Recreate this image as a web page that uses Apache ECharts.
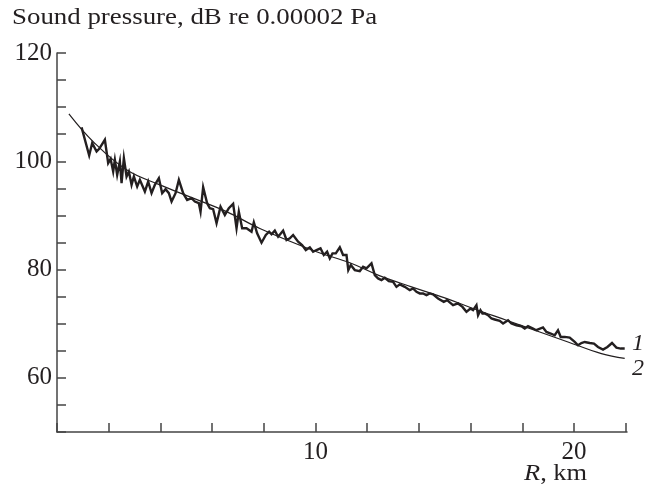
<!DOCTYPE html>
<html>
<head>
<meta charset="utf-8">
<script src="https://cdn.jsdelivr.net/npm/echarts@6/dist/echarts.min.js"></script>
<style>html,body{margin:0;padding:0;background:#fff}#c{width:651px;height:492px}</style>
</head>
<body>
<div id="c"></div>
<script>
// Curve 1: measured sound pressure (R km, dB)
const measuredR = [0.951,1.245,1.361,1.531,1.632,1.852,1.980,2.073,2.173,2.239,2.328,2.432,2.498,2.587,2.691,2.780,2.885,2.974,3.101,3.206,3.399,3.527,3.658,3.786,3.941,4.068,4.200,4.327,4.432,4.586,4.714,4.880,5.035,5.205,5.333,5.487,5.553,5.654,5.808,5.913,6.040,6.172,6.326,6.493,6.647,6.814,6.945,7.034,7.162,7.332,7.525,7.614,7.742,7.912,8.078,8.206,8.299,8.426,8.554,8.747,8.879,9.006,9.134,9.327,9.482,9.625,9.780,9.907,10.039,10.193,10.321,10.449,10.553,10.658,10.785,10.940,11.067,11.199,11.269,11.365,11.520,11.713,11.841,11.972,12.166,12.293,12.421,12.553,12.680,12.835,13.001,13.132,13.260,13.453,13.647,13.774,13.906,14.034,14.161,14.293,14.420,14.548,14.741,14.807,14.962,15.089,15.321,15.514,15.685,15.839,15.994,16.095,16.226,16.288,16.381,16.458,16.547,16.675,16.806,16.934,17.127,17.255,17.448,17.579,17.773,17.966,18.094,18.221,18.415,18.538,18.801,18.933,19.099,19.254,19.381,19.486,19.641,19.834,20.027,20.155,20.286,20.414,20.607,20.773,20.928,21.122,21.292,21.470,21.640,21.806,21.961];
const measuredDB = [106.26,101.07,103.37,101.81,102.31,103.98,99.67,100.46,98.11,100.28,97.5,99.96,95.96,100.59,97.19,98.11,95.65,97.19,95.33,96.57,94.41,96.26,94.11,95.65,96.89,94.11,94.85,94.11,92.56,94.11,96.57,94.11,92.87,93.19,92.56,92.26,90.7,95.22,92.26,91.33,91.15,88.56,91.63,90.09,91.33,92.13,87.63,90.7,87.63,87.63,87.0,88.74,86.7,84.96,86.39,87.0,86.52,87.19,86.07,87.19,85.46,85.78,86.39,85.15,84.54,83.61,84.11,83.3,83.61,83.93,82.69,83.3,82.07,83.0,83.0,84.11,82.69,82.69,79.91,80.83,79.91,79.72,80.52,80.22,81.15,78.98,78.37,78.06,78.48,77.87,77.74,76.81,77.26,76.81,76.2,76.52,75.89,75.59,75.59,75.28,75.59,75.41,74.67,74.35,74.04,74.35,73.43,73.74,73.11,72.19,72.81,72.5,73.43,71.57,72.5,71.89,71.89,71.57,70.96,70.78,70.52,70.04,70.65,70.04,69.72,69.54,69.11,69.54,69.11,68.8,69.3,68.48,68.19,67.87,68.8,67.56,67.56,67.44,66.63,66.02,66.44,66.63,66.44,66.33,65.7,65.22,65.7,66.44,65.59,65.41,65.41];
// Curve 2: calculated (smooth)
const calcR = [0.460,1.400,2.691,3.979,5.267,6.559,7.846,10.039,11.327,12.421,13.713,15.000,16.095,17.386,18.674,19.768,21.060,21.961];
const calcDB = [108.74,103.61,98.43,95.65,93.19,90.7,87.59,83.3,81.26,78.98,76.81,74.78,72.81,70.65,68.48,66.63,64.48,63.6];
const xTickLabels = [10, 20];
const yTickLabels = [60, 80, 100, 120];
const curveLabels = ['1', '2'];

const FONT = '"Liberation Serif","DejaVu Serif",serif';
const INK = '#231f20';
const chart = echarts.init(document.getElementById('c'), null, {renderer: 'canvas'});
const zip = (a, b) => a.map((v, i) => [v, b[i]]);

chart.setOption({
  animation: false,
  backgroundColor: '#fff',
  grid: {left: 57, right: 24, top: 53, bottom: 60, containLabel: false},
  xAxis: {
    type: 'value', min: 0, max: 22.05, interval: 2,
    axisLine: {lineStyle: {color: '#444', width: 1.5}},
    axisTick: {inside: true, length: 9, lineStyle: {color: '#444', width: 1.5}},
    splitLine: {show: false},
    axisLabel: {
      margin: 8, fontFamily: FONT, fontSize: 25, color: INK, showMaxLabel: false,
      formatter: v => xTickLabels.indexOf(v) >= 0 ? String(v) : ''
    }
  },
  yAxis: {
    type: 'value', min: 50, max: 120, interval: 5,
    axisLine: {show: true, lineStyle: {color: '#444', width: 1.5}},
    axisTick: {show: true, inside: true, length: 9, lineStyle: {color: '#444', width: 1.5}},
    splitLine: {show: false},
    axisLabel: {
      margin: 5, fontFamily: FONT, fontSize: 25, color: INK,
      formatter: v => yTickLabels.indexOf(v) >= 0 ? String(v) : ''
    }
  },
  series: [
    {
      type: 'line', name: curveLabels[0], data: zip(measuredR, measuredDB),
      showSymbol: false, symbol: 'none',
      lineStyle: {color: INK, width: 2.4, join: 'miter'}, z: 3
    },
    {
      type: 'line', name: curveLabels[1], data: zip(calcR, calcDB),
      showSymbol: false, symbol: 'none', smooth: 0.4,
      lineStyle: {color: INK, width: 1.2}, z: 2
    }
  ],
  graphic: [
    {type: 'text', x: 12, y: 6, scaleX: 1.12, style: {
      text: 'Sound pressure, dB re 0.00002 Pa', fill: INK, font: '24px ' + FONT, verticalAlign: 'top'
    }},
    {type: 'text', x: 524, y: 462, scaleX: 1.1, style: {
      text: '{i|R}, km', fill: INK, font: '24px ' + FONT, verticalAlign: 'top',
      rich: {i: {fontStyle: 'italic', fontFamily: FONT, fontSize: 24, fill: INK}}
    }},
    {type: 'text', x: 632, y: 332, style: {text: curveLabels[0], fill: INK, font: 'italic 24px ' + FONT, verticalAlign: 'top'}},
    {type: 'text', x: 632, y: 357, style: {text: curveLabels[1], fill: INK, font: 'italic 24px ' + FONT, verticalAlign: 'top'}}
  ]
});
</script>
</body>
</html>
